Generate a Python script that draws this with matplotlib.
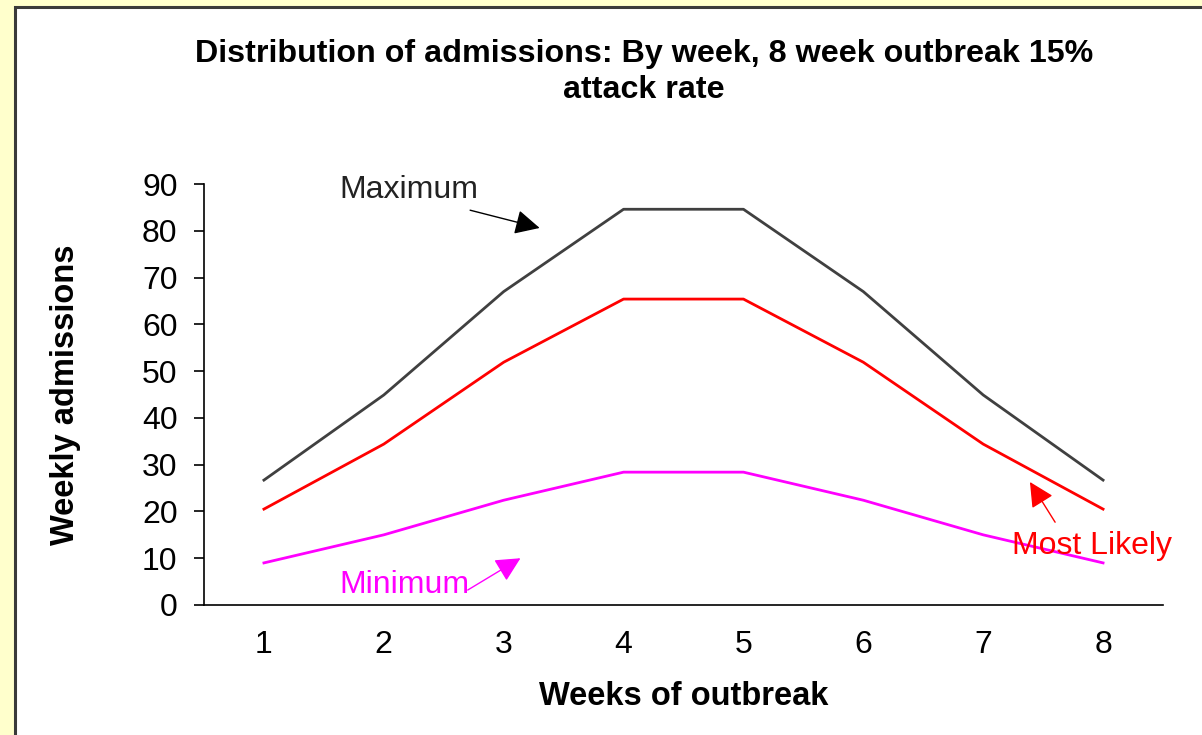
import matplotlib
matplotlib.use("Agg")
import matplotlib.pyplot as plt
from matplotlib.patches import Rectangle

plt.rcParams['font.family'] = ['Liberation Sans', 'DejaVu Sans']

# Données
semaines = [1, 2, 3, 4, 5, 6, 7, 8]
maximum = [26.7, 44.9, 67.0, 84.6, 84.6, 67.0, 44.9, 26.7]
plus_probable = [20.5, 34.4, 51.9, 65.4, 65.4, 51.9, 34.4, 20.5]
minimum = [9.0, 15.0, 22.4, 28.4, 28.4, 22.4, 15.0, 9.0]
yticks = [0, 10, 20, 30, 40, 50, 60, 70, 80, 90]

taille = 23

fig = plt.figure(figsize=(12.02, 7.35), dpi=100)
fig.patch.set_facecolor('#FFFFCC')

# cadre blanc
cadre = Rectangle((15 / 1202, -0.01), 1.1, 1 - 6.5 / 735 + 0.01,
                  transform=fig.transFigure, facecolor='white',
                  edgecolor='#3a3a3a', lw=2.2, zorder=-10)
fig.patches.append(cadre)

ax = fig.add_axes([204 / 1202, 1 - 605 / 735, (1163 - 204) / 1202, (605 - 184) / 735])
ax.set_facecolor('none')
ax.set_zorder(5)

ax.plot(semaines, maximum, color='#404040', lw=2)
ax.plot(semaines, plus_probable, color='#FF0000', lw=2)
ax.plot(semaines, minimum, color='#FF00FF', lw=2)

ax.set_xlim(0.5, 8.5)
ax.set_ylim(0, 90)
ax.set_xticks(semaines)
ax.set_yticks(yticks)
ax.tick_params(axis='x', length=0, pad=18, labelsize=taille)
ax.tick_params(axis='y', length=7, width=1.2, direction='out', pad=12, labelsize=taille)
for s in ['top', 'right']:
    ax.spines[s].set_visible(False)
ax.spines['left'].set_linewidth(1.2)
ax.spines['bottom'].set_linewidth(1.2)

ax.set_xlabel("Weeks of outbreak", fontsize=23.5, fontweight='bold', labelpad=15)
ax.set_ylabel("Weekly admissions", fontsize=23.5, fontweight='bold', labelpad=44)

fig.text(644 / 1202, 1 - 72 / 735,
         "Distribution of admissions: By week, 8 week outbreak 15%\nattack rate",
         ha='center', va='center', fontsize=23.2, fontweight='bold', linespacing=1.22)

# Annotations
fleche = dict(arrowstyle='-|>', mutation_scale=38, lw=1.0, shrinkA=0, shrinkB=0)

ax.text(2.21, 88.7, "Maximum", color='#222222', fontsize=taille, ha='center', va='center')
ax.annotate('', xy=(3.30, 80.6), xytext=(2.72, 84.4),
            arrowprops=dict(fleche, color='black'))

ax.text(2.17, 4.3, "Minimum", color='#FF00FF', fontsize=taille, ha='center', va='center')
ax.annotate('', xy=(3.14, 10.0), xytext=(2.70, 3.2),
            arrowprops=dict(fleche, color='#FF00FF'))

ax.text(7.91, 12.6, "Most Likely", color='#FF0000', fontsize=taille, ha='center', va='center')
ax.annotate('', xy=(7.39, 26.3), xytext=(7.60, 17.7),
            arrowprops=dict(fleche, color='#FF0000'))

fig.savefig("out.png", dpi=100, facecolor=fig.get_facecolor())
